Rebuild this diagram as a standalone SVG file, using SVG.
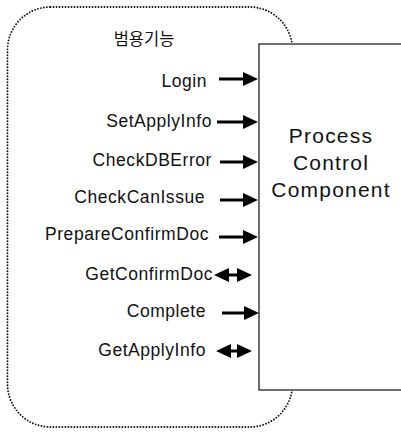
<svg xmlns="http://www.w3.org/2000/svg" width="401" height="432" viewBox="0 0 401 432">
  <style>
    .bg { fill: #ffffff; }
    .frame { fill: none; stroke: #111; stroke-width: 1.9; stroke-dasharray: 0 3; stroke-linecap: round; }
    .comp { fill: #ffffff; stroke: #222; stroke-width: 1.3; }
    .lbl { font-family: "Liberation Sans", Arial, sans-serif; font-size: 17.5px; letter-spacing: 0.55px; fill: #111; text-anchor: end; }
    .title { font-family: "Noto Sans CJK KR", "Liberation Sans", sans-serif; font-size: 16.5px; fill: #111; text-anchor: middle; }
    .big { font-family: "Liberation Sans", Arial, sans-serif; font-size: 21px; letter-spacing: 1.2px; fill: #111; text-anchor: middle; }
    .wire { stroke: #000; stroke-width: 3; fill: none; }
  </style>
  <defs>
    <marker id="head" markerUnits="userSpaceOnUse" markerWidth="16" markerHeight="15" refX="2" refY="7.5" orient="auto-start-reverse">
      <path d="M0,0.5 L15,7.5 L0,14.5 z" fill="#000"/>
    </marker>
  </defs>

  <rect class="bg" x="0" y="0" width="401" height="432"/>

  <!-- dotted boundary of the general-function group -->
  <g id="group-general">
    <rect class="frame" x="7.5" y="7" width="285" height="420" rx="43" ry="43"/>
    <text class="title" x="144" y="45">범용기능</text>
  </g>

  <!-- component block, running off the right edge -->
  <g id="process-control-component">
    <rect class="comp" x="259" y="44" width="150" height="346"/>
    <text class="big" x="331" y="143">Process</text>
    <text class="big" x="331" y="170">Control</text>
    <text class="big" x="331" y="197">Component</text>
  </g>

  <!-- interface labels -->
  <g id="op-login"><text class="lbl" x="207" y="87">Login</text></g>
  <g id="op-setapplyinfo"><text class="lbl" x="212" y="127">SetApplyInfo</text></g>
  <g id="op-checkdberror"><text class="lbl" x="212" y="166">CheckDBError</text></g>
  <g id="op-checkcanissue"><text class="lbl" x="205" y="203">CheckCanIssue</text></g>
  <g id="op-prepareconfirmdoc"><text class="lbl" x="209" y="240">PrepareConfirmDoc</text></g>
  <g id="op-getconfirmdoc"><text class="lbl" x="213" y="280">GetConfirmDoc</text></g>
  <g id="op-complete"><text class="lbl" x="206" y="317">Complete</text></g>
  <g id="op-getapplyinfo"><text class="lbl" x="206" y="356">GetApplyInfo</text></g>

  <!-- connectors into the component -->
  <g id="connectors">
    <line class="wire" x1="219" y1="79" x2="245" y2="79" marker-end="url(#head)"/>
    <line class="wire" x1="217" y1="122" x2="245" y2="122" marker-end="url(#head)"/>
    <line class="wire" x1="220" y1="162" x2="245" y2="162" marker-end="url(#head)"/>
    <line class="wire" x1="220" y1="200" x2="245" y2="200" marker-end="url(#head)"/>
    <line class="wire" x1="219" y1="237" x2="245" y2="237" marker-end="url(#head)"/>
    <line class="wire" x1="227" y1="275" x2="239" y2="275" marker-start="url(#head)" marker-end="url(#head)"/>
    <line class="wire" x1="222" y1="313" x2="246" y2="313" marker-end="url(#head)"/>
    <line class="wire" x1="229" y1="351" x2="239" y2="351" marker-start="url(#head)" marker-end="url(#head)"/>
  </g>
</svg>
